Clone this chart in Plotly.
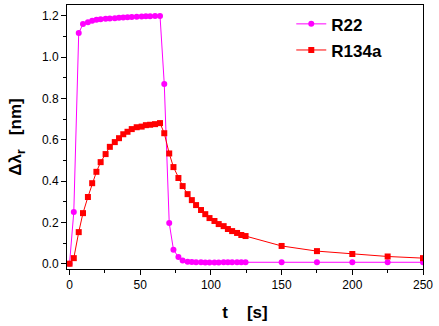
import plotly.graph_objects as go

t = [0, 3, 6.5, 9.5, 13, 16, 19, 22, 25.5, 28.5, 32, 35, 38, 41, 44, 47.5, 51, 54, 57, 60.5,
     64, 67, 70.5, 73.5, 77, 80, 83.5, 86.5, 89.5, 93, 96, 99, 102.5, 105.5, 109, 112, 115,
     118.5, 121.5, 124.5, 150, 175, 200, 225, 250]

r22 = [0.0, 0.25, 1.117, 1.161, 1.170, 1.177, 1.181, 1.184, 1.186, 1.188, 1.189, 1.191, 1.192,
       1.194, 1.195, 1.196, 1.197, 1.198, 1.199, 1.200, 1.200, 0.87, 0.197, 0.068, 0.032, 0.016,
       0.010, 0.008, 0.007, 0.007, 0.006, 0.006, 0.006, 0.006, 0.007, 0.007, 0.007, 0.007,
       0.007, 0.007, 0.007, 0.007, 0.007, 0.007, 0.007]

r134a = [0.0, 0.027, 0.153, 0.245, 0.323, 0.39, 0.445, 0.492, 0.531, 0.566, 0.589, 0.608, 0.627,
         0.639, 0.652, 0.661, 0.664, 0.671, 0.673, 0.676, 0.681, 0.632, 0.534, 0.468, 0.415,
         0.376, 0.337, 0.308, 0.284, 0.26, 0.24, 0.221, 0.207, 0.192, 0.182, 0.168, 0.158,
         0.149, 0.139, 0.134, 0.086, 0.061, 0.047, 0.035, 0.027]

x_ticks = [0, 50, 100, 150, 200, 250]
y_ticks = [0.0, 0.2, 0.4, 0.6, 0.8, 1.0, 1.2]

font_family = "Liberation Sans, Arial, sans-serif"

fig = go.Figure()
fig.add_trace(go.Scatter(
    x=t, y=r22, name="R22", mode="lines+markers", legendgroup="a",
    line=dict(color="#FF00FF", width=1),
    marker=dict(symbol="circle", size=6, color="#FF00FF"),
))
fig.add_trace(go.Scatter(
    x=t, y=r134a, name="R134a", mode="lines+markers", legendgroup="b",
    line=dict(color="#FF0000", width=1),
    marker=dict(symbol="square", size=6, color="#FF0000"),
))

fig.update_layout(
    width=439, height=326,
    margin=dict(l=67, r=16, t=5, b=57),
    paper_bgcolor="white", plot_bgcolor="white",
    font=dict(family=font_family, color="black", size=12),
    showlegend=True,
    legend=dict(
        x=0.63, y=0.995, xanchor="left", yanchor="top",
        bgcolor="rgba(0,0,0,0)", borderwidth=0,
        font=dict(family=font_family, size=17, color="black", weight="bold"),
        itemwidth=30, traceorder="grouped", tracegroupgap=1,
    ),
    xaxis=dict(
        range=[-1.8, 250], tickvals=x_ticks, ticktext=[str(v) for v in x_ticks],
        showgrid=False, zeroline=False,
        showline=True, linecolor="black", linewidth=1, mirror=True,
        ticks="outside", ticklen=5, tickwidth=1, tickcolor="black",
        minor=dict(ticks="outside", ticklen=3, tickwidth=1, tickcolor="black", dtick=25, showgrid=False),
        tickfont=dict(size=12, family=font_family),
        title=dict(text="<b>t    [s]</b>", font=dict(size=17, family=font_family), standoff=14),
    ),
    yaxis=dict(
        range=[-0.0256, 1.253], tickvals=y_ticks, ticktext=[f"{v:.1f}" for v in y_ticks],
        showgrid=False, zeroline=False,
        showline=True, linecolor="black", linewidth=1, mirror=True,
        ticks="outside", ticklen=5, tickwidth=1, tickcolor="black",
        minor=dict(ticks="outside", ticklen=3, tickwidth=1, tickcolor="black", dtick=0.1, showgrid=False),
        tickfont=dict(size=12, family=font_family),
        title=dict(text="<b>Δλ<sub>r</sub>   [nm]</b>", font=dict(size=17, family=font_family), standoff=15),
    ),
)

fig.write_html("out.html")
